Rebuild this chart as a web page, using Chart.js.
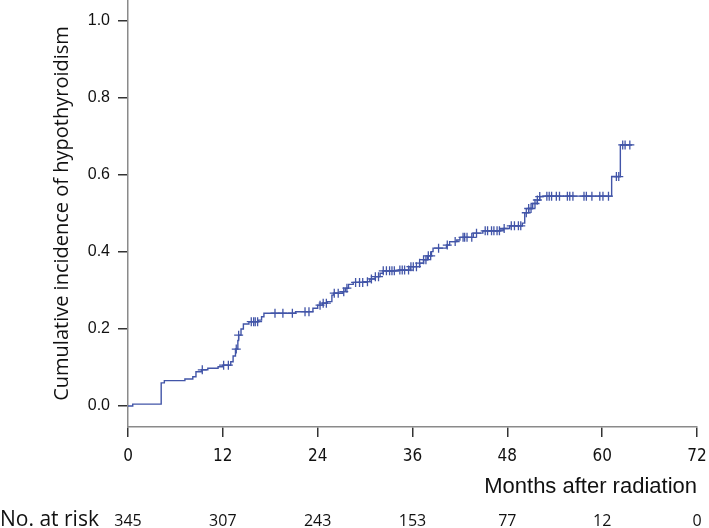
<!DOCTYPE html>
<html>
<head>
<meta charset="utf-8">
<script src="https://cdn.jsdelivr.net/npm/chart.js@4.4.1/dist/chart.umd.min.js"></script>
<style>
  html, body { margin: 0; padding: 0; background: #fff; }
  #wrap { width: 709px; height: 528px; position: relative; }
</style>
</head>
<body>
<div id="wrap"><canvas id="chart"></canvas></div>
<script>
// Step curve: months and cumulative incidence after each event
const eventMonths = [0, 0.6, 4.2, 4.6, 7.2, 8.2, 8.6, 9.3, 10.1, 11.4,
    12.0, 13.0, 13.3, 13.6, 13.9, 14.0, 14.3, 14.6, 15.3, 16.5,
    16.9, 17.2, 21.2, 23.4, 24.0, 24.6, 25.2, 25.8, 26.0, 27.2,
    27.5, 27.9, 28.5, 30.0, 30.6, 31.3, 31.9, 32.3, 34.2, 35.7,
    36.9, 37.4, 37.9, 38.4, 38.6, 40.3, 40.7, 41.6, 42.0, 43.7, 44.9,
    47.1, 47.5, 48.3, 49.9, 50.2, 50.7, 51.2, 51.8, 52.1, 52.5,
    61.2, 62.3, 63.8];
const incidence = [0, 0.005, 0.060, 0.066, 0.070, 0.076, 0.089, 0.094, 0.098, 0.102,
    0.106, 0.115, 0.130, 0.148, 0.170, 0.184, 0.200, 0.213, 0.219, 0.223,
    0.232, 0.241, 0.245, 0.254, 0.262, 0.267, 0.271, 0.288, 0.293, 0.297,
    0.306, 0.316, 0.321, 0.323, 0.330, 0.336, 0.345, 0.351, 0.353, 0.362,
    0.371, 0.380, 0.390, 0.401, 0.410, 0.418, 0.427, 0.431, 0.438, 0.449, 0.455,
    0.457, 0.461, 0.468, 0.475, 0.502, 0.513, 0.526, 0.535, 0.544, 0.545,
    0.596, 0.678, 0.678];

// Censored observations (months)
const censorMonths = [9.4, 12.1, 12.7, 13.7, 14.0, 15.6, 15.9, 16.1, 16.4,
    18.6, 19.6, 20.8, 22.4, 22.9, 24.3, 24.7, 25.1, 26.1, 26.6, 27.3, 27.7,
    28.8, 29.3, 29.7, 30.3, 30.8, 31.3, 31.7, 32.3, 32.7, 33.1, 33.4, 33.7,
    34.4, 34.7, 35.0, 35.5, 35.8, 36.1, 36.5, 36.9, 37.4, 37.7, 38.0, 38.3,
    39.3, 40.4, 41.4, 42.4, 42.6, 42.9, 43.5, 44.1, 45.2, 45.5,
    46.0, 46.3, 46.7, 47.0, 47.6, 48.5, 48.9, 49.4, 49.7, 50.4, 50.7, 51.0,
    51.5, 51.8, 52.1, 53.0, 53.3, 53.6, 54.2, 54.6, 55.6, 55.9, 56.3,
    57.7, 58.0, 58.7, 59.7, 60.1, 60.8, 61.8, 62.1, 62.6, 62.9, 63.5];

const xTicks = [0, 12, 24, 36, 48, 60, 72];
const yTicks = [0, 0.2, 0.4, 0.6, 0.8, 1.0];
const atRisk = [345, 307, 243, 153, 77, 12, 0];

const blue = '#4255a8';
const narrow = '"Liberation Sans Narrow", "DejaVu Sans Condensed", "Liberation Sans", Arial, sans-serif';

// censor marks sit on the curve
function curveAt(t) {
    let v = incidence[0];
    for (let i = 0; i < eventMonths.length; i++) {
        if (eventMonths[i] <= t) v = incidence[i];
    }
    return v;
}

const atRiskPlugin = {
    id: 'atRisk',
    afterDraw(chart) {
        const ctx = chart.ctx;
        const x = chart.scales.x;
        ctx.save();
        ctx.fillStyle = '#111';
        ctx.textBaseline = 'middle';
        ctx.font = '21px "Open Sans", "Noto Sans", sans-serif';
        ctx.textAlign = 'left';
        ctx.fillText('No. at risk', 0, 520);
        ctx.font = '16px "Open Sans", "Noto Sans", sans-serif';
        ctx.textAlign = 'center';
        xTicks.forEach((m, i) => {
            ctx.fillText(String(atRisk[i]), x.getPixelForValue(m), 521);
        });
        ctx.restore();
    }
};

new Chart(document.getElementById('chart'), {
    type: 'line',
    data: {
        datasets: [{
            label: 'Cumulative incidence',
            data: eventMonths.map((m, i) => ({ x: m, y: incidence[i] })),
            borderColor: blue,
            borderWidth: 1.4,
            stepped: 'before',
            pointRadius: 0,
            fill: false
        }, {
            type: 'scatter',
            label: 'Censored',
            data: censorMonths.map(m => ({ x: m, y: curveAt(m) })),
            pointStyle: 'cross',
            pointRadius: 4.5,
            borderColor: blue,
            borderWidth: 1.3,
            showLine: false
        }]
    },
    options: {
        responsive: true,
        maintainAspectRatio: false,
        animation: false,
        layout: { autoPadding: false, padding: { top: 0, right: 12, bottom: 0, left: 0 } },
        plugins: {
            legend: { display: false },
            tooltip: { enabled: false }
        },
        scales: {
            x: {
                type: 'linear',
                min: 0,
                max: 72,
                afterBuildTicks: s => { s.ticks = xTicks.map(v => ({ value: v })); },
                afterFit: s => { s.height = 101; s.paddingLeft = 0; s.paddingRight = 0; },
                border: { display: true, color: '#8a8a8a', width: 1.5 },
                grid: { drawOnChartArea: false, drawTicks: true, tickLength: 10, color: '#333', lineWidth: 1.5 },
                ticks: {
                    padding: 9,
                    color: '#111',
                    maxRotation: 0,
                    font: { family: narrow, style: 'condensed', size: 17 }
                },
                title: {
                    display: true,
                    text: 'Months after radiation',
                    align: 'end',
                    color: '#111',
                    padding: { top: 0, bottom: 28 },
                    font: { family: '"Liberation Sans", Arial, sans-serif', size: 22 }
                }
            },
            y: {
                type: 'linear',
                min: -0.0545,
                max: 1.0545,
                afterBuildTicks: s => { s.ticks = yTicks.map(v => ({ value: v })); },
                afterFit: s => { s.width = 128; s.paddingTop = 0; s.paddingBottom = 0; },
                border: { display: true, color: '#8a8a8a', width: 1.5 },
                grid: { drawOnChartArea: false, drawTicks: true, tickLength: 10, color: '#333', lineWidth: 1.5 },
                ticks: {
                    padding: 8,
                    color: '#111',
                    callback: v => v.toFixed(1),
                    font: { family: '"Liberation Sans", Arial, sans-serif', size: 16 }
                },
                title: {
                    display: true,
                    text: 'Cumulative incidence of hypothyroidism',
                    color: '#111',
                    padding: { top: 50, bottom: 0 },
                    font: { family: '"Open Sans", "Noto Sans", sans-serif', size: 20 }
                }
            }
        }
    },
    plugins: [atRiskPlugin]
});
</script>
</body>
</html>
